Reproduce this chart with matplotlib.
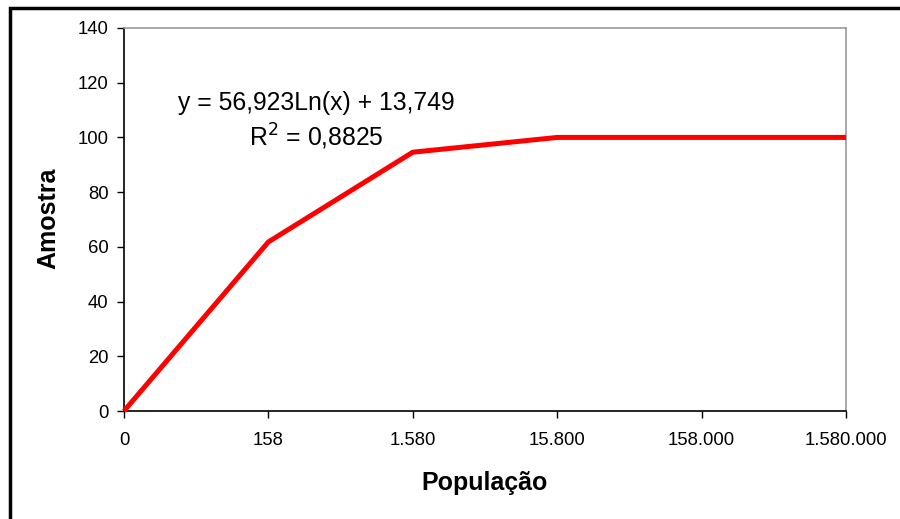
import matplotlib.pyplot as plt
from matplotlib.patches import Rectangle

plt.rcParams['font.family'] = ['Liberation Sans', 'DejaVu Sans']

categorias = ["0", "158", "1.580", "15.800", "158.000", "1.580.000"]
amostra = [0, 61.8, 94.6, 100, 100, 100]
equacao = "y = 56,923Ln(x) + 13,749"
r2 = "R$^2$ = 0,8825"

fig = plt.figure(figsize=(9, 5.19), dpi=100)
ax = fig.add_axes([124 / 900, 1 - 411 / 519, (846 - 124) / 900, (411 - 28) / 519])

x = list(range(len(categorias)))
ax.plot(x, amostra, color="#ff0000", linewidth=3.6, solid_capstyle="butt", zorder=3, clip_on=False)

ax.set_xlim(0, len(categorias) - 1)
ax.set_ylim(0, 140)
ax.set_xticks(x)
ax.set_xticklabels(categorias)
ax.set_yticks(range(0, 141, 20))
ax.tick_params(axis="both", labelsize=13.3, direction="out", length=5, width=1, color="black")
ax.tick_params(axis="x", pad=10)
ax.tick_params(axis="y", pad=6)

ax.spines["left"].set_color("black")
ax.spines["bottom"].set_color("black")
ax.spines["top"].set_color("#999999")
ax.spines["right"].set_color("#999999")
for s in ax.spines.values():
    s.set_linewidth(1.2)

fig.text(48 / 900, 1 - 218 / 519, "Amostra", fontsize=18, fontweight="bold",
         rotation=90, ha="center", va="center")
fig.text(485 / 900, 1 - 483 / 519, "População", fontsize=18, fontweight="bold",
         ha="center", va="center")

fig.text(316 / 900, 1 - 103 / 519, equacao, fontsize=17.8, ha="center", va="center")
fig.text(316 / 900, 1 - 137 / 519, r2, fontsize=17.8, ha="center", va="center")

# moldura da figura
fig.patches.append(Rectangle((10 / 900, -0.1), 1.0, 1 - 8 / 519 + 0.1,
                             transform=fig.transFigure, fill=False,
                             edgecolor="black", linewidth=2.5))

fig.savefig("out.png", dpi=100)
